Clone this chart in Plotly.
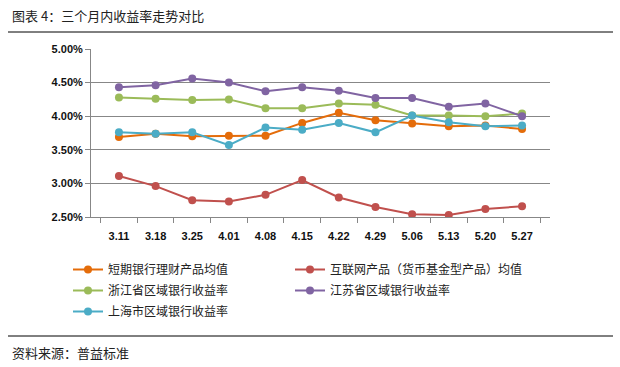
import plotly.graph_objects as go

dates = ["3.11", "3.18", "3.25", "4.01", "4.08", "4.15", "4.22", "4.29", "5.06", "5.13", "5.20", "5.27"]
short_bank = [3.69, 3.74, 3.70, 3.71, 3.71, 3.90, 4.05, 3.94, 3.89, 3.85, 3.86, 3.81]
internet = [3.11, 2.96, 2.75, 2.73, 2.83, 3.05, 2.79, 2.65, 2.54, 2.53, 2.62, 2.66]
zhejiang = [4.28, 4.26, 4.24, 4.25, 4.12, 4.12, 4.19, 4.17, 4.01, 4.01, 4.00, 4.04]
jiangsu = [4.43, 4.46, 4.56, 4.50, 4.37, 4.43, 4.38, 4.27, 4.27, 4.14, 4.19, 4.00]
shanghai = [3.76, 3.74, 3.76, 3.57, 3.83, 3.80, 3.90, 3.76, 4.01, 3.91, 3.85, 3.86]

series = [
    ("短期银行理财产品均值", short_bank, "#E46C0A", "legend"),
    ("互联网产品（货币基金型产品）均值", internet, "#C0504D", "legend2"),
    ("浙江省区域银行收益率", zhejiang, "#9BBB59", "legend"),
    ("江苏省区域银行收益率", jiangsu, "#8064A2", "legend2"),
    ("上海市区域银行收益率", shanghai, "#4BACC6", "legend"),
]
y_ticks = [2.5, 3.0, 3.5, 4.0, 4.5, 5.0]
y_labels = ["%.2f%%" % v for v in y_ticks]

fig = go.Figure()
for name, vals, col, lg in series:
    fig.add_trace(go.Scatter(
        x=dates, y=vals, name=name, mode="lines+markers",
        line=dict(color=col, width=2),
        marker=dict(color=col, size=8),
        legend=lg, legendgroup=name,
    ))

W, H = 620, 367
L, R, T, B = 91, 70, 49, 150
pw, ph = W - L - R, H - T - B

def px(x):
    return (x - L) / pw

def py(y):
    return (H - B - y) / ph

legfont = dict(family="Noto Sans CJK SC", size=12, color="#222222")
leg_common = dict(
    orientation="v", xref="container", yref="container",
    xanchor="left", yanchor="top", itemwidth=30, tracegroupgap=2,
    font=legfont, bgcolor="rgba(0,0,0,0)",
)

fig.update_layout(
    width=W, height=H,
    margin=dict(l=L, r=R, t=T, b=B, autoexpand=False),
    paper_bgcolor="white", plot_bgcolor="white",
    font=dict(family="Noto Sans CJK SC", color="#222222"),
    showlegend=True,
    legend=dict(x=68 / W, y=1 - 255 / H, **leg_common),
    legend2=dict(x=290 / W, y=1 - 255 / H, **leg_common),
    xaxis=dict(
        type="category", showgrid=False, showline=True, linecolor="#878787", linewidth=1,
        ticks="outside", tickson="boundaries", ticklen=5, tickcolor="#878787",
        tickfont=dict(family="Liberation Sans", size=11, color="#111111", weight="bold"),
        ticklabelstandoff=9,
    ),
    yaxis=dict(
        range=[2.5, 5.0], tickvals=y_ticks, ticktext=y_labels,
        showgrid=True, gridcolor="#878787", gridwidth=1,
        showline=True, linecolor="#878787", linewidth=1,
        ticks="outside", ticklen=5, tickcolor="#878787",
        tickfont=dict(family="Liberation Sans", size=11, color="#111111", weight="bold"),
        zeroline=False,
    ),
    shapes=[
        dict(type="line", xref="paper", yref="paper", x0=px(8), x1=px(613), y0=py(32), y1=py(32),
             line=dict(color="black", width=1)),
        dict(type="line", xref="paper", yref="paper", x0=px(8), x1=px(613), y0=py(336), y1=py(336),
             line=dict(color="black", width=1)),
    ],
    annotations=[
        dict(text="图表 4：三个月内收益率走势对比", xref="paper", yref="paper", x=px(10), y=py(15),
             xanchor="left", yanchor="middle", showarrow=False,
             font=dict(family="Noto Sans CJK SC", size=13, color="#222222")),
        dict(text="资料来源：普益标准", xref="paper", yref="paper", x=px(10), y=py(352),
             xanchor="left", yanchor="middle", showarrow=False,
             font=dict(family="Noto Sans CJK SC", size=13, color="#222222")),
    ],
)

fig.write_html(
    "out.html",
    config={"displayModeBar": False},
    post_script="document.body.style.margin='0';document.body.style.padding='0';",
)
